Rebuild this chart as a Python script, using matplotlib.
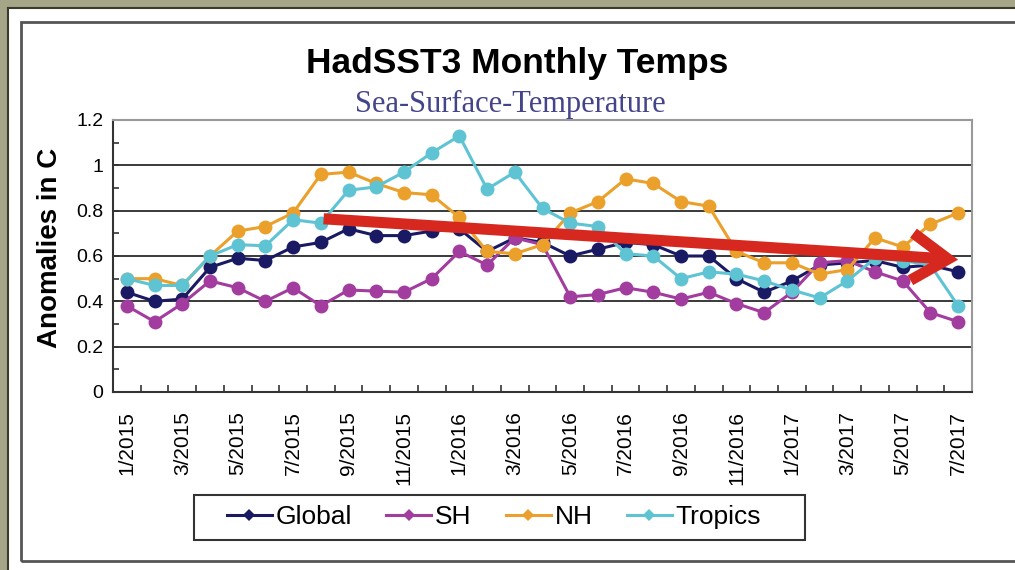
import matplotlib.pyplot as plt
from matplotlib.patches import Rectangle, FancyArrowPatch
from matplotlib.lines import Line2D

# monthly data 1/2015 .. 7/2017
months = [f"{m}/{y}" for y in (2015, 2016, 2017) for m in range(1, 13)][:31]
global_vals = [0.44, 0.40, 0.41, 0.55, 0.59, 0.58, 0.64, 0.66, 0.72, 0.69, 0.69, 0.71, 0.72,
               0.62, 0.68, 0.66, 0.60, 0.63, 0.66, 0.65, 0.60, 0.60, 0.50, 0.44, 0.49, 0.56,
               0.57, 0.58, 0.55, 0.56, 0.53]
sh_vals = [0.38, 0.31, 0.39, 0.49, 0.46, 0.40, 0.46, 0.38, 0.45, 0.445, 0.44, 0.50, 0.62,
           0.56, 0.68, 0.65, 0.42, 0.43, 0.46, 0.44, 0.41, 0.44, 0.39, 0.35, 0.44, 0.57,
           0.58, 0.53, 0.49, 0.35, 0.31]
nh_vals = [0.50, 0.50, 0.47, 0.60, 0.71, 0.73, 0.79, 0.96, 0.97, 0.92, 0.88, 0.87, 0.77,
           0.62, 0.61, 0.65, 0.79, 0.84, 0.94, 0.92, 0.84, 0.82, 0.62, 0.57, 0.57, 0.52,
           0.54, 0.68, 0.64, 0.74, 0.79]
tropics_vals = [0.50, 0.47, 0.47, 0.60, 0.65, 0.645, 0.76, 0.745, 0.89, 0.905, 0.97, 1.055,
                1.13, 0.895, 0.97, 0.81, 0.745, 0.73, 0.61, 0.60, 0.50, 0.53, 0.52, 0.49,
                0.45, 0.415, 0.49, 0.59, 0.58, 0.56, 0.38]

series_names = ["Global", "SH", "NH", "Tropics"]
series_vals = [global_vals, sh_vals, nh_vals, tropics_vals]
series_colors = ["#1a1a64", "#a23c9e", "#eaa02a", "#5ec3d3"]

# trend arrow (start/end in month index, anomaly)
trend_start = (7.0, 0.765)
trend_end = (30.1, 0.583)

W, H = 1015, 570
fig = plt.figure(figsize=(W / 100, H / 100), dpi=100, facecolor="#a5a587")

def fx(px):
    return px / W

def fy(py):
    return 1 - py / H

# page background and frames
fig.patches.append(Rectangle((fx(9), 0), 1, fy(9), transform=fig.transFigure,
                             facecolor="white", edgecolor="none", zorder=-2))
fig.lines.append(Line2D([fx(8), fx(8)], [0, fy(8)], transform=fig.transFigure,
                        color="#3a3a2e", lw=1.5, zorder=-1))
fig.lines.append(Line2D([fx(8), 1], [fy(8), fy(8)], transform=fig.transFigure,
                        color="#3a3a2e", lw=1.5, zorder=-1))
fig.patches.append(Rectangle((fx(21), fy(561)), fx(1040) - fx(21), fy(22) - fy(561),
                             transform=fig.transFigure, facecolor="none",
                             edgecolor="#555555", lw=2, zorder=-1))

ax = fig.add_axes([fx(113), fy(392), fx(972) - fx(113), fy(120) - fy(392)])
x = list(range(len(months)))

for name, vals, col in zip(series_names, series_vals, series_colors):
    ax.plot(x, vals, color=col, lw=2.2, marker="o", markersize=10,
            markeredgewidth=0, label=name)

arrow = FancyArrowPatch(trend_start, trend_end, arrowstyle="->,head_length=1.3,head_width=0.85",
                        mutation_scale=20, color="#d6281f", lw=8, zorder=10,
                        capstyle="butt", joinstyle="miter")
ax.add_patch(arrow)

ax.set_xlim(-0.5, len(months) - 0.5)
ax.set_ylim(0, 1.2)
ax.set_xticks(x[::2])
ax.set_xticklabels(months[::2], rotation=90, fontsize=15, family="Liberation Sans")
ax.set_xticks([i - 0.5 for i in range(len(months) + 1)], minor=True)
ax.tick_params(axis="x", which="major", length=0, pad=14)
ax.tick_params(axis="x", which="minor", direction="in", length=5, width=1.2, color="#333")

yt = [0, 0.2, 0.4, 0.6, 0.8, 1.0, 1.2]
ax.set_yticks(yt)
ax.set_yticklabels(["0", "0.2", "0.4", "0.6", "0.8", "1", "1.2"], fontsize=14,
                   family="Liberation Sans")
ax.set_yticks([0.1, 0.3, 0.5, 0.7, 0.9, 1.1], minor=True)
ax.tick_params(axis="y", which="both", direction="in", length=4, width=1.2, color="#333", pad=7)

ax.grid(axis="y", which="major", color="#2a2a2a", lw=1.3)
ax.set_axisbelow(True)
for s in ("left", "bottom"):
    ax.spines[s].set_color("#333333")
    ax.spines[s].set_linewidth(1.5)
for s in ("top", "right"):
    ax.spines[s].set_color("#999999")
    ax.spines[s].set_linewidth(1.5)

ax.set_ylabel("Anomalies in C", fontsize=20, fontweight="bold", family="Liberation Sans")
ax.yaxis.set_label_coords(-0.058, 0.53)

fig.text(fx(517), fy(63), "HadSST3 Monthly Temps", ha="center", va="center",
         fontsize=25.5, fontweight="bold", family="Liberation Sans")
fig.text(fx(510), fy(104), "Sea-Surface-Temperature", ha="center", va="center",
         fontsize=22, family="Liberation Serif", color="#44448a")

handles = [Line2D([], [], color=c, lw=2.2, marker="D", markersize=6, markeredgewidth=0)
           for c in series_colors]
leg = fig.legend(handles, series_names, loc="center", bbox_to_anchor=(fx(494), fy(517)),
                 ncol=4, frameon=False,
                 prop={"family": "Liberation Sans", "size": 19},
                 handlelength=1.7, handletextpad=0.15, columnspacing=1.3,
                 borderpad=0, borderaxespad=0)
# legend box drawn separately: it has wider side padding than matplotlib gives
fig.patches.append(Rectangle((fx(194), fy(540)), fx(805) - fx(194), fy(495) - fy(540),
                             transform=fig.transFigure, facecolor="white",
                             edgecolor="#333333", lw=1.5, zorder=-1))

fig.savefig("out.png", dpi=100, facecolor=fig.get_facecolor())
